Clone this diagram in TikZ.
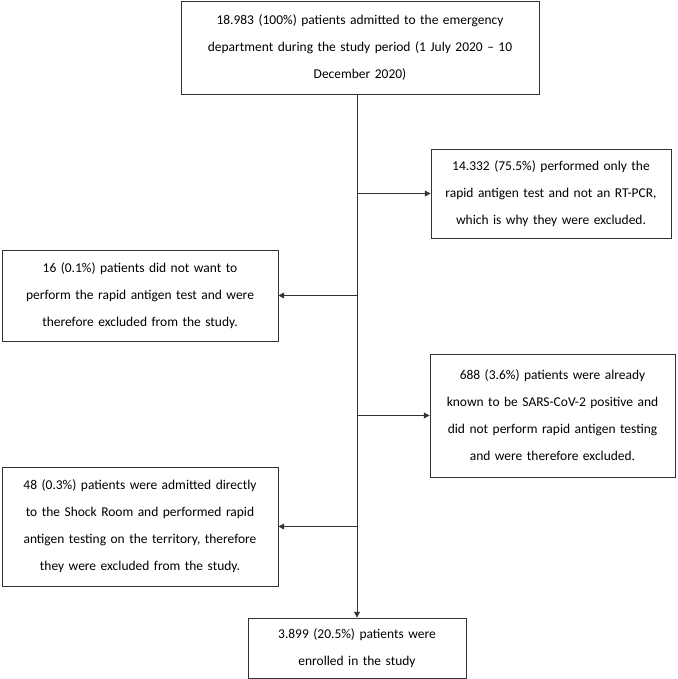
\documentclass[tikz,border=0pt]{standalone}
\usepackage{fontspec}
\setmainfont{Carlito}
\usetikzlibrary{arrows.meta}

\begin{document}
\begin{tikzpicture}[
    box/.style={draw=black!80, line width=0.6pt, align=center, inner xsep=0pt, font=\fontsize{11.5}{23}\selectfont},
    flow/.style={draw=black!80, line width=0.6pt, -{Triangle[length=5pt, width=5pt]}}]
    \useasboundingbox (0,0) rectangle (20.31,-20.37);

    \node[box, text width=10.74cm, minimum height=2.79cm] (admitted) at (10.8, -1.425) {18.983 (100\%) patients admitted to the emergency\\department during the study period (1 July 2020 -- 10\\December 2020)};
    \node[box, text width=7.2cm, minimum height=2.67cm] (antigenonly) at (16.53, -5.805) {14.332 (75.5\%) performed only the\\rapid antigen test and not an RT-PCR,\\which is why they were excluded.};
    \node[box, text width=8.28cm, minimum height=2.73cm] (refused) at (4.2, -8.865) {16 (0.1\%) patients did not want to\\perform the rapid antigen test and were\\therefore excluded from the study.};
    \node[box, text width=7.35cm, minimum height=3.69cm] (positive) at (16.575, -12.465) {688 (3.6\%) patients were already\\known to be SARS-CoV-2 positive and\\did not perform rapid antigen testing\\and were therefore excluded.};
    \node[box, text width=8.28cm, minimum height=3.57cm] (shockroom) at (4.2, -15.795) {48 (0.3\%) patients were admitted directly\\to the Shock Room and performed rapid\\antigen testing on the territory, therefore\\they were excluded from the study.};
    \node[box, text width=6.54cm, minimum height=1.8cm] (enrolled) at (10.71, -19.44) {3.899 (20.5\%) patients were\\enrolled in the study};

    \draw[flow] (enrolled.north |- admitted.south) -- (enrolled.north);
    \draw[flow] (enrolled.north |- antigenonly.west) -- (antigenonly.west);
    \draw[flow] (enrolled.north |- refused.east) -- (refused.east);
    \draw[flow] (enrolled.north |- positive.west) -- (positive.west);
    \draw[flow] (enrolled.north |- shockroom.east) -- (shockroom.east);
\end{tikzpicture}
\end{document}
